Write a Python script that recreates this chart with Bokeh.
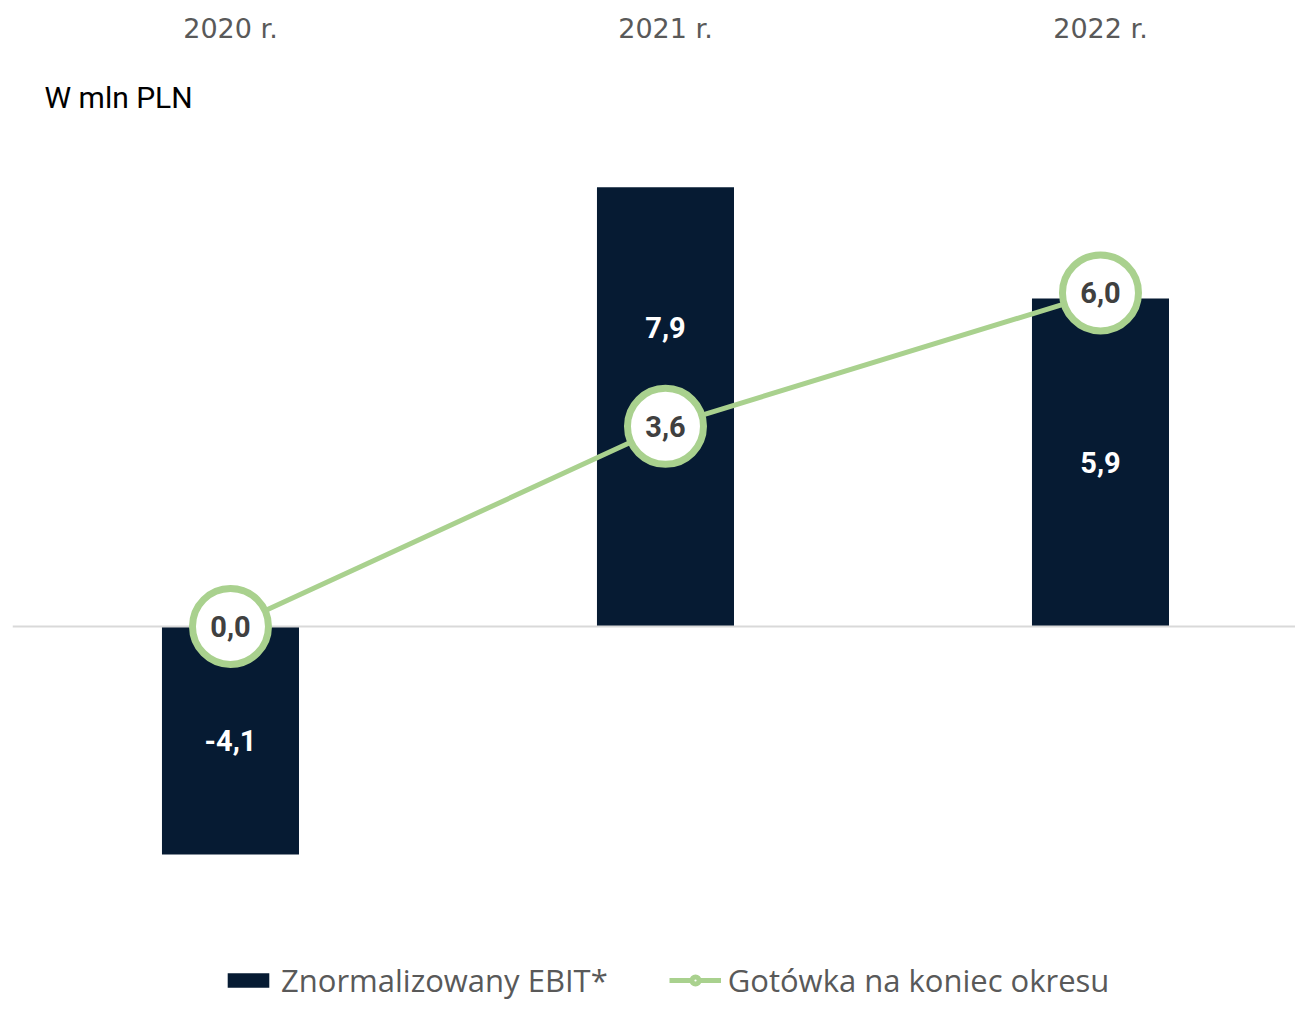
from bokeh.plotting import figure
from bokeh.models import (Range1d, FixedTicker, Legend, LegendItem, Label,
                          ColumnDataSource, LinearAxis)
from bokeh.core.properties import value
from bokeh.embed import file_html
from bokeh.resources import INLINE

# ---- data ----
years = ["2020 r.", "2021 r.", "2022 r."]
ebit = [-4.1, 7.9, 5.9]
cash = [0.0, 3.6, 6.0]
ebit_labels = ["-4,1", "7,9", "5,9"]
cash_labels = ["0,0", "3,6", "6,0"]
label_frac = [0.5, 0.68, 0.5]   # relative height of bar label inside bar

xs = list(range(len(years)))

BAR = "#061b33"
GREEN = "#a9d18e"
GREY = "#595959"

p = figure(width=1295, height=1001, output_backend="svg", toolbar_location=None,
           x_range=Range1d(-0.5011, 2.4483), y_range=Range1d(-6.745, 10.306),
           x_axis_location=None, y_axis_location=None,
           min_border_left=12, min_border_right=0, min_border_top=53, min_border_bottom=0)
p.outline_line_color = None
p.xgrid.visible = False
p.ygrid.visible = False
p.background_fill_color = "white"

top_axis = LinearAxis(ticker=FixedTicker(ticks=xs),
                      major_label_overrides={i: y for i, y in zip(xs, years)})
top_axis.axis_line_color = None
top_axis.major_tick_line_color = None
top_axis.minor_tick_line_color = None
top_axis.major_tick_out = 0
top_axis.major_tick_in = 0
top_axis.major_label_standoff = 10
top_axis.major_label_text_font = "DejaVu Sans"
top_axis.major_label_text_font_size = "27px"
top_axis.major_label_text_color = GREY
p.add_layout(top_axis, "above")

src = ColumnDataSource(dict(x=xs, ebit=ebit, cash=cash, el=ebit_labels, cl=cash_labels,
                            ly=[v * f for v, f in zip(ebit, label_frac)]))

bars = p.vbar(x="x", top="ebit", bottom=0, width=0.315, source=src,
              fill_color=BAR, line_color=None)

# zero line
p.hspan(y=[0], line_color="#d9d9d9", line_width=2)

line = p.line(x="x", y="cash", source=src, line_color=GREEN, line_width=5)
p.scatter(x="x", y="cash", source=src, size=76, fill_color="white",
          line_color=GREEN, line_width=7)
leg_marker = p.scatter(x=[float("nan")], y=[float("nan")], size=10, fill_color="white",
                       line_color=GREEN, line_width=5)

p.text(x="x", y="ly", text="el", source=src, text_color="white",
       text_font=value("Roboto"), text_font_style="bold", text_font_size="29px",
       text_align="center", text_baseline="middle")
p.text(x="x", y="cash", text="cl", source=src, text_color="#404040",
       text_font=value("Roboto"), text_font_style="bold", text_font_size="29px",
       text_align="center", text_baseline="middle")

p.add_layout(Label(x=-0.4275, y=9.514, text="W mln PLN", text_font="Roboto",
                   text_font_size="30px", text_color="black",
                   text_align="left", text_baseline="middle"))

legend = Legend(items=[LegendItem(label="Znormalizowany EBIT*", renderers=[bars]),
                       LegendItem(label="Gotówka na koniec okresu", renderers=[line, leg_marker])],
                orientation="horizontal", location=(210, 0),
                glyph_width=52, glyph_height=18, label_standoff=7, spacing=61,
                padding=0, margin=0, border_line_color=None, background_fill_alpha=0,
                label_text_font="Open Sans", label_text_font_size="31px",
                label_text_color=GREY)
p.add_layout(legend)

open("out.html", "w").write(file_html(p, INLINE))
